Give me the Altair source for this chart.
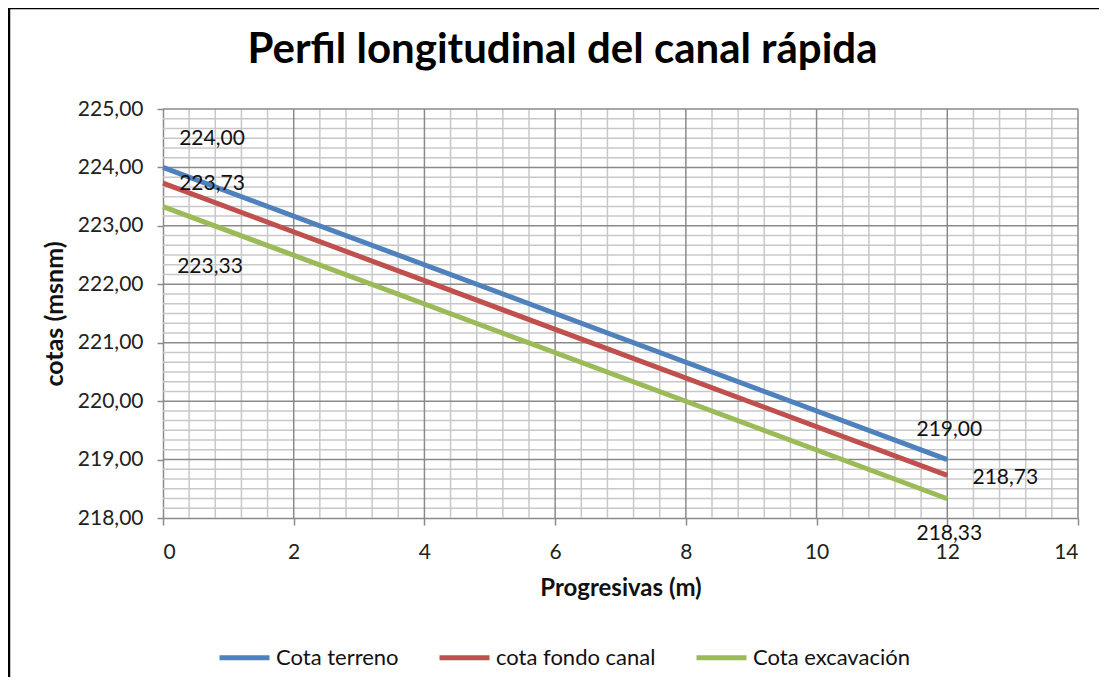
import altair as alt
import pandas as pd
import numpy as np

# ---- data ----
progresivas = [0, 12]
cota_terreno = [224.00, 219.00]
cota_fondo = [223.73, 218.73]
cota_excav = [223.33, 218.33]
series_names = ["Cota terreno", "cota fondo canal", "Cota excavación"]
series_colors = ["#4F81BD", "#C0504D", "#9BBB59"]

x_ticks = [0, 2, 4, 6, 8, 10, 12, 14]
y_ticks = [218, 219, 220, 221, 222, 223, 224, 225]

rows = []
for name, vals in zip(series_names, [cota_terreno, cota_fondo, cota_excav]):
    for xv, yv in zip(progresivas, vals):
        rows.append({"serie": name, "x": xv, "y": yv, "lab": f"{yv:.2f}".replace(".", ",")})
df = pd.DataFrame(rows)

# grid positions (decoration)
minor_x = [v for v in np.round(np.arange(0, 14.0001, 0.4), 4) if abs(v / 2 - round(v / 2)) > 1e-6]
minor_y = [v for v in np.arange(218, 225.0001, 1 / 6) if abs(v - round(v)) > 1e-6]
gx = pd.DataFrame({"x": minor_x})
gy = pd.DataFrame({"y": minor_y})
mgx = pd.DataFrame({"x": x_ticks[1:]})
mgy = pd.DataFrame({"y": y_ticks[1:]})

FONT = "Lato"
xs = alt.Scale(domain=[0, 14], nice=False, zero=False)
ys = alt.Scale(domain=[218, 225], nice=False, zero=False)

minor_v = alt.Chart(gx).mark_rule(color="#c8c8c8", strokeWidth=1.5).encode(
    x=alt.X("x:Q", scale=xs), y=alt.value(0), y2=alt.value(409))
minor_h = alt.Chart(gy).mark_rule(color="#c8c8c8", strokeWidth=1.5).encode(
    y=alt.Y("y:Q", scale=ys), x=alt.value(0), x2=alt.value(915))
major_v = alt.Chart(mgx).mark_rule(color="#8a8a8a", strokeWidth=1.5).encode(
    x=alt.X("x:Q", scale=xs), y=alt.value(0), y2=alt.value(409))
major_h = alt.Chart(mgy).mark_rule(color="#8a8a8a", strokeWidth=1.5).encode(
    y=alt.Y("y:Q", scale=ys), x=alt.value(0), x2=alt.value(915))

lines = alt.Chart(df).mark_line(strokeWidth=5, strokeCap="butt").encode(
    x=alt.X("x:Q", scale=xs,
            axis=alt.Axis(values=x_ticks, title="Progresivas (m)", grid=False, format="d",
                          tickSize=7, tickColor="#8a8a8a", domainColor="#8a8a8a",
                          domainWidth=1.5, tickWidth=1.5,
                          labelFont=FONT, labelFontSize=21, labelColor="#222",
                          labelPadding=16, titleFont=FONT, titleFontSize=24,
                          titleFontWeight="bold", titleColor="#111", titlePadding=14)),
    y=alt.Y("y:Q", scale=ys,
            axis=alt.Axis(values=y_ticks, title="cotas (msnm)", grid=False,
                          labelExpr="replace(format(datum.value, '.2f'), '.', ',')",
                          tickSize=6, tickColor="#8a8a8a", domainColor="#8a8a8a",
                          domainWidth=1.5, tickWidth=1.5,
                          labelFont=FONT, labelFontSize=21, labelColor="#222",
                          labelPadding=14, titleFont=FONT, titleFontSize=25,
                          titleFontWeight="bold", titleColor="#111", titlePadding=10)),
    color=alt.Color("serie:N",
                    scale=alt.Scale(domain=series_names, range=series_colors),
                    sort=series_names,
                    legend=alt.Legend(title=None, orient="none", direction="horizontal",
                                      legendX=54, legendY=521,
                                      symbolType="stroke", symbolStrokeWidth=5,
                                      symbolSize=2500, labelFont=FONT, labelFontSize=22,
                                      labelColor="#111", columnPadding=30, labelOffset=4)),
    detail="serie:N",
)

label_specs = [
    ("Cota terreno", 0, 49, -28),
    ("cota fondo canal", 0, 49, 1),
    ("Cota excavación", 0, 47, 60),
    ("Cota terreno", 12, 2, -30),
    ("cota fondo canal", 12, 58, 3),
    ("Cota excavación", 12, 2, 35),
]
labels = []
for s, xv, dx, dy in label_specs:
    labels.append(
        alt.Chart(df).transform_filter(
            (alt.datum.serie == s) & (alt.datum.x == xv)
        ).mark_text(font=FONT, fontSize=21, color="#111", dx=dx, dy=dy,
                    align="center", baseline="middle").encode(
            x=alt.X("x:Q", scale=xs), y=alt.Y("y:Q", scale=ys), text="lab:N")
    )

frame = alt.Chart(pd.DataFrame({"a": [0]})).mark_rect(
    fill=None, stroke="#000", strokeWidth=2.5).encode(
    x=alt.value(-154), x2=alt.value(1100), y=alt.value(-101), y2=alt.value(700))

chart = alt.layer(minor_v, minor_h, major_v, major_h, lines, *labels, frame).properties(
    width=915, height=409,
    title=alt.Title("Perfil longitudinal del canal rápida", font=FONT, fontSize=42,
                    fontWeight="bold", color="#000", anchor="middle", offset=-65, dx=-58,
                    frame="group"),
    autosize=alt.AutoSizeParams(type="none"),
    padding={"left": 155, "top": 101, "right": 21, "bottom": 159},
).configure_view(stroke=None)

chart.save("out.html", embed_options={"renderer": "svg", "actions": False})
